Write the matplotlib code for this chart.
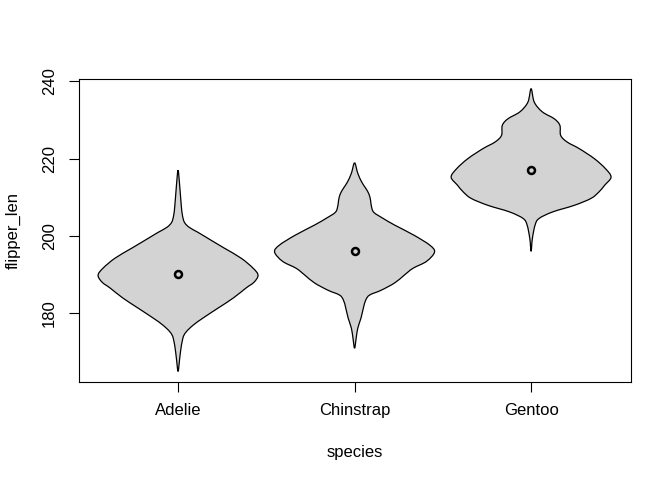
import matplotlib

matplotlib.use("Agg")
import matplotlib.pyplot as plt
import numpy as np
from matplotlib.patches import PathPatch
from matplotlib.path import Path

plt.rcParams["font.family"] = ["Liberation Sans", "DejaVu Sans"]

# --- data -------------------------------------------------------------------
species = ["Adelie", "Chinstrap", "Gentoo"]
medians = [190.0, 196.0, 217.0]

# violin outline: flipper length value and relative half-width (max = 1)
adelie_y = [217.0, 213.1, 207.9, 205.3, 203.5, 202.2, 200.9, 198.9, 196.8,
            194.2, 191.6, 189.8, 188.0, 186.5, 183.9, 181.3, 178.7, 176.9,
            175.1, 173.5, 169.9, 166.6, 164.9]
adelie_w = [0.0, 0.02, 0.04, 0.055, 0.08, 0.14, 0.25, 0.41, 0.58,
            0.79, 0.94, 1.0, 0.95, 0.85, 0.69, 0.50, 0.31, 0.19,
            0.10, 0.06, 0.03, 0.012, 0.0]

chinstrap_y = [218.9, 216.2, 213.9, 212.3, 210.8, 209.2, 207.7, 206.1, 204.6,
               202.8, 200.2, 197.6, 195.8, 193.4, 191.6, 189.8, 187.8, 185.9,
               184.7, 183.4, 181.3, 178.7, 176.1, 173.5, 170.9]
chinstrap_w = [0.0, 0.04, 0.09, 0.14, 0.18, 0.20, 0.21, 0.24, 0.35,
               0.50, 0.74, 0.94, 1.0, 0.90, 0.73, 0.62, 0.50, 0.33,
               0.19, 0.14, 0.11, 0.08, 0.04, 0.02, 0.0]

gentoo_y = [238.1, 234.6, 232.1, 230.3, 228.6, 226.0, 224.3, 222.6, 220.0,
            217.4, 215.2, 213.1, 211.4, 209.7, 207.9, 206.2, 204.5, 202.8,
            199.3, 196.0]
gentoo_w = [0.0, 0.04, 0.14, 0.29, 0.36, 0.37, 0.45, 0.60, 0.79,
            0.93, 1.0, 0.92, 0.85, 0.75, 0.54, 0.27, 0.10, 0.05,
            0.016, 0.0]

profiles = [(adelie_y, adelie_w), (chinstrap_y, chinstrap_w), (gentoo_y, gentoo_w)]

HALF = 0.453  # widest half-width in x units


def smooth_path(xs, ys):
    """Closed Catmull-Rom outline through the points, as cubic Bezier pieces."""
    p = np.column_stack([xs, ys])
    n = len(p)
    verts = [p[0]]
    codes = [Path.MOVETO]
    for k in range(n):
        p0, p1, p2, p3 = p[k - 1], p[k], p[(k + 1) % n], p[(k + 2) % n]
        verts += [p1 + (p2 - p0) / 6, p2 - (p3 - p1) / 6, p2]
        codes += [Path.CURVE4] * 3
    return Path(verts, codes)


fig = plt.figure(figsize=(6.72, 4.8), dpi=100)
ax = fig.add_axes([78.5 / 672, 1 - 381.5 / 480, (631 - 78.5) / 672, (381.5 - 79) / 480])
ax.set_xlim(0.436, 3.566)
ax.set_ylim(162.3, 240.6)
ax.set_autoscale_on(False)

for i, (yv, wv) in enumerate(profiles):
    pos = i + 1
    yv = np.asarray(yv)
    wv = np.asarray(wv) * HALF
    # left side top->bottom, right side bottom->top (tips shared once)
    xs = np.concatenate([pos - wv, (pos + wv)[::-1][1:-1]])
    ys = np.concatenate([yv, yv[::-1][1:-1]])
    # smooth in display space so the rounding is even in x and y
    pts = ax.transData.transform(np.column_stack([xs, ys]))
    path = smooth_path(pts[:, 0], pts[:, 1])
    path = ax.transData.inverted().transform_path(path)
    ax.add_patch(PathPatch(path, facecolor="#D3D3D3", edgecolor="black", lw=0.9, zorder=2))

ax.plot(range(1, 4), medians, "o", mfc="none", mec="black", ms=5, mew=1.8, zorder=3)

ax.set_xticks([1, 2, 3])
ax.set_xticklabels(species)
ax.set_yticks([180, 200, 220, 240])
ax.set_yticklabels(["180", "200", "220", "240"], rotation=90, va="center")
ax.tick_params(length=7.2, width=0.8, labelsize=12, pad=8.5)
for s in ax.spines.values():
    s.set_linewidth(0.8)
ax.set_xlabel("species", fontsize=12, labelpad=19)
ax.set_ylabel("flipper_len", fontsize=12, labelpad=15)

fig.savefig("out.png", dpi=100)
